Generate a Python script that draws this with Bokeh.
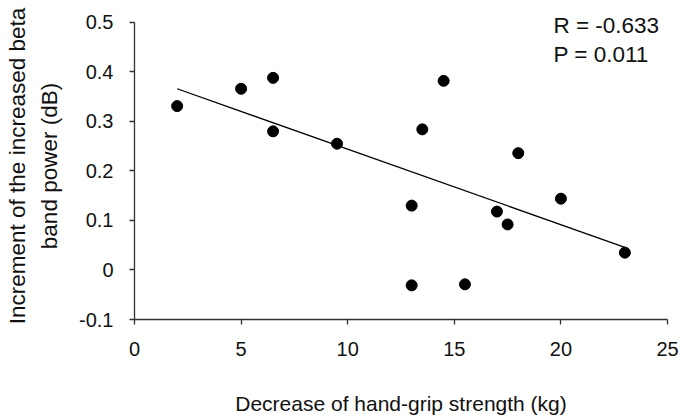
import numpy as np
from bokeh.plotting import figure
from bokeh.models import Range1d, FixedTicker, Label
from bokeh.embed import file_html
from bokeh.resources import INLINE

# Data
grip_decrease = [2.0, 5.0, 6.5, 6.5, 9.5, 13.0, 13.0, 13.5, 14.5, 15.5, 17.0, 17.5, 18.0, 20.0, 23.0]
beta_increment = [0.331, 0.366, 0.388, 0.280, 0.255, 0.130, -0.031, 0.284, 0.382, -0.029, 0.118, 0.092, 0.236, 0.144, 0.035]

x_ticks = [0, 5, 10, 15, 20, 25]
x_tick_labels = ["0", "5", "10", "15", "20", "25"]
y_ticks = [-0.1, 0.0, 0.1, 0.2, 0.3, 0.4, 0.5]
y_tick_labels = ["-0.1", "0", "0.1", "0.2", "0.3", "0.4", "0.5"]

stats_lines = ["R = -0.633", "P = 0.011"]

FONT = "Liberation Sans"
INK = "#111111"
AXIS = "#333333"

# frame extends a little above 0.5 so the statistics text is not clipped;
# the y axis line itself is bounded to -0.1 .. 0.5
p = figure(width=685, height=417, output_backend="svg", toolbar_location=None,
           x_range=Range1d(0, 25), y_range=Range1d(-0.1, 0.52),
           min_border_left=134, min_border_right=18, min_border_top=12, min_border_bottom=95)
p.outline_line_color = None
p.xgrid.grid_line_color = None
p.ygrid.grid_line_color = None
p.background_fill_color = "white"
p.border_fill_color = "white"

# regression line (least squares fit of the data)
xs = np.array(grip_decrease)
ys = np.array(beta_increment)
slope, intercept = np.polyfit(xs, ys, 1)
fit_x = [xs.min(), xs.max()]
fit_y = [slope * v + intercept for v in fit_x]
p.line(fit_x, fit_y, line_color="black", line_width=1.3)

p.scatter(grip_decrease, beta_increment, size=11, fill_color="black", line_color="black")

for ax in (p.xaxis[0], p.yaxis[0]):
    ax.axis_line_color = AXIS
    ax.axis_line_width = 1.3
    ax.major_tick_line_color = AXIS
    ax.major_tick_line_width = 1.3
    ax.major_tick_in = 0
    ax.major_tick_out = 5
    ax.minor_tick_line_color = None
    ax.major_label_text_font = FONT
    ax.major_label_text_font_size = "20px"
    ax.major_label_text_color = INK
    ax.axis_label_text_font = FONT
    ax.axis_label_text_font_style = "normal"
    ax.axis_label_text_color = INK

p.xaxis.ticker = FixedTicker(ticks=x_ticks)
p.xaxis.major_label_overrides = {t: l for t, l in zip(x_ticks, x_tick_labels)}
p.yaxis.ticker = FixedTicker(ticks=y_ticks)
p.yaxis.major_label_overrides = {t: l for t, l in zip(y_ticks, y_tick_labels)}
p.yaxis.bounds = (y_ticks[0], y_ticks[-1])

p.xaxis.axis_label = "Decrease of hand-grip strength (kg)"
p.xaxis.axis_label_text_font_size = "21px"
p.xaxis.major_label_standoff = 17
p.xaxis.axis_label_standoff = 33

p.yaxis.axis_label = "Increment of the increased beta\nband power (dB)"
p.yaxis.axis_label_text_font_size = "22.5px"
p.yaxis.axis_label_text_line_height = 1.27
p.yaxis.major_label_standoff = 16
p.yaxis.axis_label_standoff = 14

stat_y = [0.493, 0.435]
for txt, yy in zip(stats_lines, stat_y):
    p.add_layout(Label(x=19.65, y=yy, text=txt, text_font=FONT, text_font_size="22.5px",
                       text_color=INK, text_baseline="alphabetic", text_align="left"))

open("out.html", "w").write(file_html(p, INLINE))
